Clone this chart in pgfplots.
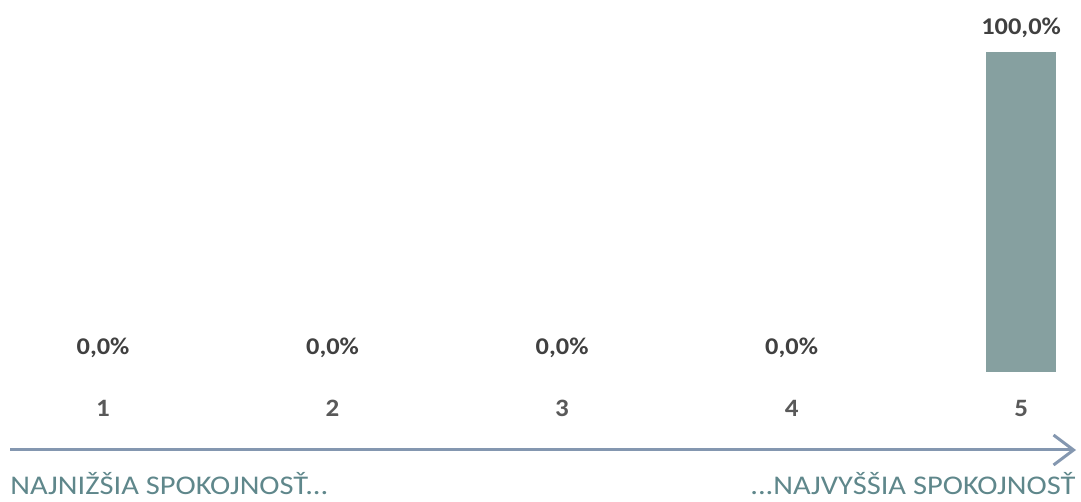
\documentclass[border=0pt]{standalone}
\usepackage{fontspec}
\setmainfont{Carlito}
\usepackage{pgfplots}
\pgfplotsset{compat=1.18}
\usetikzlibrary{arrows.meta}
\definecolor{barc}{HTML}{86A0A0}
\definecolor{lab}{HTML}{404040}
\definecolor{tick}{HTML}{595959}
\definecolor{arr}{HTML}{8497B0}
\definecolor{txt}{HTML}{5F878B}
\begin{document}
\begin{tikzpicture}
\useasboundingbox (0pt,0pt) rectangle (540.5pt,251pt);
\begin{axis}[
  at={(0pt,65pt)}, anchor=south west,
  scale only axis, width=540.5pt, height=160pt,
  xmin=0.551, xmax=5.261, ymin=0, ymax=100,
  axis line style={draw=none}, tick style={draw=none},
  xtick={1,2,3,4,5}, ytick=\empty,
  /pgf/number format/assume math mode=true,
  x tick label style={font=\bfseries\fontsize{12.5}{14}\selectfont, text=tick, anchor=center, yshift=-14pt, xscale=1.08},
  ybar, bar width=35pt, bar shift=0pt,
  clip=false,
  point meta=y,
  nodes near coords={\pgfmathprintnumber[fixed,fixed zerofill,precision=1,use comma,assume math mode=true]{\pgfplotspointmeta}\%},
  nodes near coords style={font=\bfseries\fontsize{12}{14}\selectfont, text=lab, anchor=center, yshift=12pt, xscale=1.1},
]
\addplot[fill=none, draw=none] coordinates {(1,0) (2,0) (3,0) (4,0)};
\addplot[fill=barc, draw=none] coordinates {(5,100)};
\end{axis}
\draw[arr, line width=1.5pt, -{Straight Barb[length=10pt,width=15pt,line width=1.5pt]}] (5pt,26pt) -- (538pt,26pt);
\node[anchor=base west, inner sep=0, text=txt, font=\fontsize{13.5}{16}\selectfont, xscale=1.13] at (5pt,3.5pt) {NAJNIŽŠIA SPOKOJNOSŤ...};
\node[anchor=base east, inner sep=0, text=txt, font=\fontsize{13.5}{16}\selectfont, xscale=1.13] at (538pt,3.5pt) {...NAJVYŠŠIA SPOKOJNOSŤ};
\end{tikzpicture}
\end{document}
